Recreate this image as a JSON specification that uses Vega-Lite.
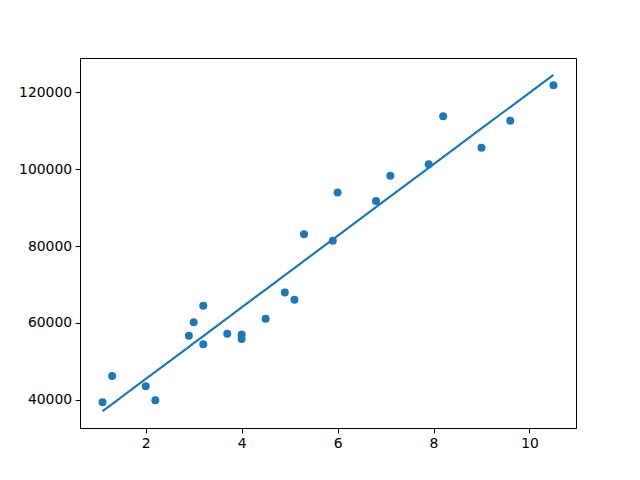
{
  "$schema": "https://vega.github.io/schema/vega-lite/v6.json",
  "width": 496,
  "height": 370,
  "autosize": "none",
  "padding": {"left": 80, "top": 58, "right": 64, "bottom": 52},
  "background": "white",
  "config": {
    "view": {"stroke": "black", "strokeWidth": 1},
    "axis": {
      "grid": false,
      "domainColor": "black",
      "tickColor": "black",
      "tickSize": 4.9,
      "labelPadding": 3.5,
      "labelFont": "DejaVu Sans",
      "labelFontSize": 13.9,
      "labelColor": "black",
      "title": null
    }
  },
  "data": {
    "values": [
      {"years": 1.1, "salary": 39343, "pred": 37023.93},
      {"years": 1.3, "salary": 46205, "pred": 38886.45},
      {"years": 2.0, "salary": 43525, "pred": 45405.25},
      {"years": 2.2, "salary": 39891, "pred": 47267.77},
      {"years": 2.9, "salary": 56642, "pred": 53786.57},
      {"years": 3.0, "salary": 60150, "pred": 54717.83},
      {"years": 3.2, "salary": 54445, "pred": 56580.34},
      {"years": 3.2, "salary": 64445, "pred": 56580.34},
      {"years": 3.7, "salary": 57189, "pred": 61236.63},
      {"years": 4.0, "salary": 55794, "pred": 64030.40},
      {"years": 4.0, "salary": 56957, "pred": 64030.40},
      {"years": 4.5, "salary": 61111, "pred": 68686.69},
      {"years": 4.9, "salary": 67938, "pred": 72411.72},
      {"years": 5.1, "salary": 66029, "pred": 74274.23},
      {"years": 5.3, "salary": 83088, "pred": 76136.75},
      {"years": 5.9, "salary": 81363, "pred": 81724.29},
      {"years": 6.0, "salary": 93940, "pred": 82655.55},
      {"years": 6.8, "salary": 91738, "pred": 90105.61},
      {"years": 7.1, "salary": 98273, "pred": 92899.38},
      {"years": 7.9, "salary": 101302, "pred": 100349.44},
      {"years": 8.2, "salary": 113812, "pred": 103143.22},
      {"years": 9.0, "salary": 105582, "pred": 110593.28},
      {"years": 9.6, "salary": 112635, "pred": 116180.82},
      {"years": 10.5, "salary": 121872, "pred": 124562.14}
    ]
  },
  "layer": [
    {
      "mark": {"type": "point", "filled": true, "shape": "circle", "size": 64, "color": "#1f77b4", "opacity": 1},
      "encoding": {
        "x": {"field": "years", "type": "quantitative", "scale": {"domain": [0.63, 10.97], "nice": false, "zero": false}, "axis": {"values": [2, 4, 6, 8, 10]}},
        "y": {"field": "salary", "type": "quantitative", "scale": {"domain": [32647, 128939], "nice": false, "zero": false}, "axis": {"values": [40000, 60000, 80000, 100000, 120000], "format": "d"}}
      }
    },
    {
      "mark": {"type": "line", "color": "#1f77b4", "strokeWidth": 2.2},
      "encoding": {
        "x": {"field": "years", "type": "quantitative"},
        "y": {"field": "pred", "type": "quantitative"}
      }
    }
  ]
}
